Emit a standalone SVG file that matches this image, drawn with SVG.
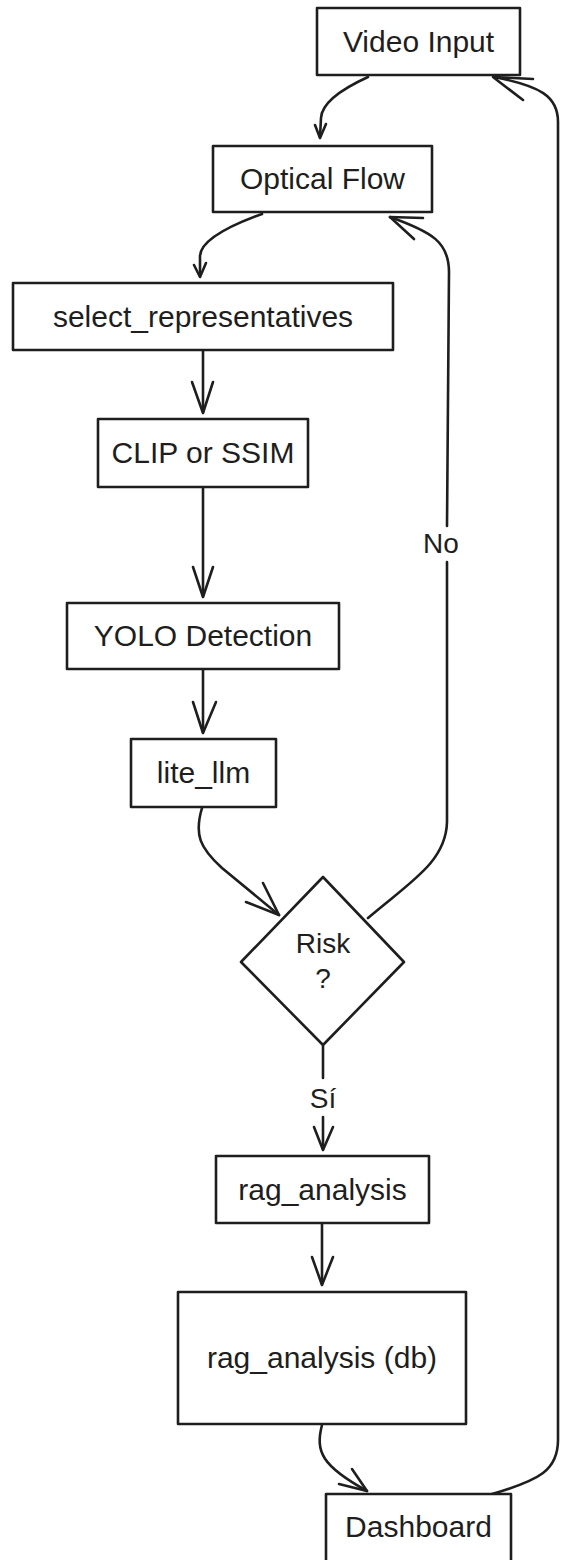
<svg xmlns="http://www.w3.org/2000/svg" width="563" height="1560" viewBox="0 0 563 1560">
  <style>
    .box { fill: #ffffff; stroke: #1e1e1e; stroke-width: 2.6; stroke-linejoin: round; }
    .lbl { font-family: "Liberation Sans", Arial, sans-serif; font-size: 30px; fill: #1e1e1e; text-anchor: middle; }
    .edge { fill: none; stroke: #1e1e1e; stroke-width: 2.6; stroke-linecap: round; stroke-linejoin: round; }
    .head { fill: none; stroke: #1e1e1e; stroke-width: 2.6; stroke-linecap: round; stroke-linejoin: round; }
    .elbl { font-family: "Liberation Sans", Arial, sans-serif; font-size: 28px; fill: #1e1e1e; text-anchor: middle; }
  </style>
  <rect width="563" height="1560" fill="#ffffff"/>

  <!-- connectors -->
  <g id="connectors">
    <!-- Video Input -> Optical Flow -->
    <path class="edge" d="M368 77 Q322 98 321 118 L320 137"/>
    <path class="head" d="M315 125 L320 138 L326 124"/>

    <!-- Optical Flow -> select_representatives -->
    <path class="edge" d="M262 214 Q201 236 200 256 L200 276"/>
    <path class="head" d="M194 265 L200 277 L206 263"/>

    <!-- select_representatives -> CLIP or SSIM -->
    <path class="edge" d="M203 351 L203 412"/>
    <path class="head" d="M192 382 L203 413 L213 382"/>

    <!-- CLIP or SSIM -> YOLO Detection -->
    <path class="edge" d="M203 488 L203 596"/>
    <path class="head" d="M193 567 L203 597 L213 567"/>

    <!-- YOLO Detection -> lite_llm -->
    <path class="edge" d="M203 670 L203 732"/>
    <path class="head" d="M193 702 L203 733 L216 702"/>

    <!-- lite_llm -> Risk ? -->
    <path class="edge" d="M202 808 C194 835 200 848 222 868 L279 915"/>
    <path class="head" d="M246 902 L279 915 L263 883"/>

    <!-- Risk ? -> Optical Flow (No) -->
    <path class="edge" d="M368 918 C410 882 446 862 447 822 L447 562"/>
    <path class="edge" d="M447 526 L449 272 C449 242 432 232 390 217"/>
    <path class="head" d="M423 218 L390 217 L414 239"/>
    <text class="elbl" x="441" y="553">No</text>

    <!-- Risk ? -> rag_analysis (Sí) -->
    <path class="edge" d="M323 1046 L323 1078"/>
    <path class="edge" d="M323 1117 L323 1149"/>
    <path class="head" d="M314 1127 L323 1150 L333 1127"/>
    <text class="elbl" x="323" y="1108">Sí</text>

    <!-- rag_analysis -> rag_analysis (db) -->
    <path class="edge" d="M322 1224 L322 1284"/>
    <path class="head" d="M312 1257 L322 1285 L333 1257"/>

    <!-- rag_analysis (db) -> Dashboard -->
    <path class="edge" d="M322 1425 C315 1452 322 1466 367 1491"/>
    <path class="head" d="M339 1484 L367 1491 L352 1469"/>

    <!-- Dashboard -> Video Input (loop) -->
    <path class="edge" d="M492 1494 C540 1480 558 1470 558 1440 L558 122 C558 96 540 86 494 77"/>
    <path class="head" d="M533 79 L493 77 L523 100"/>
  </g>

  <g id="video-input">
    <rect class="box" x="317" y="8" width="203" height="67"/>
    <text class="lbl" x="418.5" y="52">Video Input</text>
  </g>

  <g id="optical-flow">
    <rect class="box" x="213" y="146" width="219" height="66"/>
    <text class="lbl" x="322.5" y="189">Optical Flow</text>
  </g>

  <g id="select-representatives">
    <rect class="box" x="13" y="283" width="380" height="67"/>
    <text class="lbl" x="203" y="327">select_representatives</text>
  </g>

  <g id="clip-or-ssim">
    <rect class="box" x="98" y="419" width="210" height="68"/>
    <text class="lbl" x="203" y="463">CLIP or SSIM</text>
  </g>

  <g id="yolo-detection">
    <rect class="box" x="67" y="603" width="272" height="66"/>
    <text class="lbl" x="203" y="646">YOLO Detection</text>
  </g>

  <g id="lite-llm">
    <rect class="box" x="131" y="739" width="145" height="68"/>
    <text class="lbl" x="203.5" y="783">lite_llm</text>
  </g>

  <g id="risk">
    <polygon class="box" points="323,877 404,962 323,1045 241,962"/>
    <text class="elbl" x="323" y="953">Risk</text>
    <text class="elbl" x="323" y="988">?</text>
  </g>

  <g id="rag-analysis">
    <rect class="box" x="216" y="1156" width="213" height="67"/>
    <text class="lbl" x="322.5" y="1200">rag_analysis</text>
  </g>

  <g id="rag-analysis-db">
    <rect class="box" x="178" y="1292" width="288" height="132"/>
    <text class="lbl" x="322" y="1368">rag_analysis (db)</text>
  </g>

  <g id="dashboard">
    <rect class="box" x="326" y="1494" width="185" height="70"/>
    <text class="lbl" x="418.5" y="1537">Dashboard</text>
  </g>
</svg>
